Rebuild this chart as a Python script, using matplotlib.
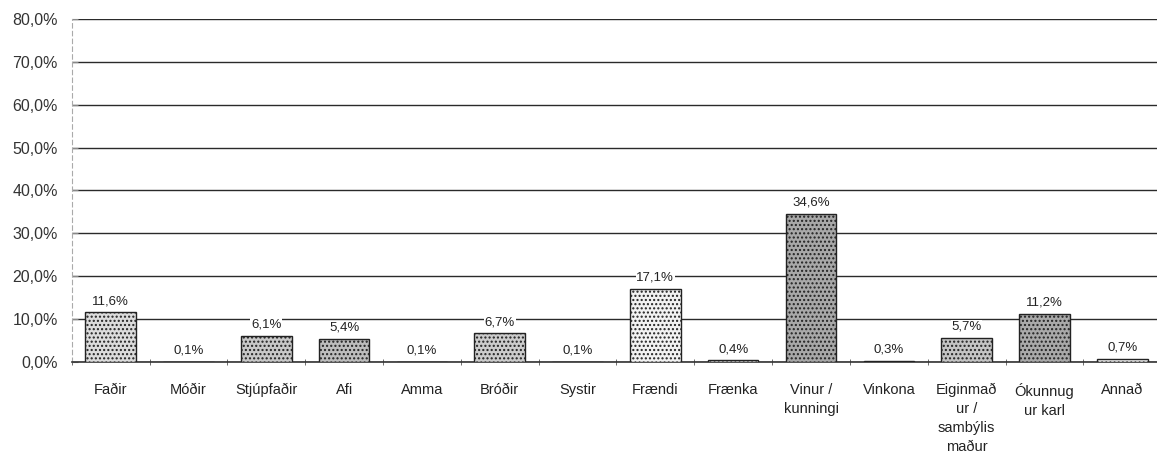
# Súlurit: tengsl geranda við þolanda
import matplotlib.pyplot as plt
import numpy as np

flokkar = ['Faðir', 'Móðir', 'Stjúpfaðir', 'Afi', 'Amma', 'Bróðir', 'Systir',
           'Frændi', 'Frænka', 'Vinur /\nkunningi', 'Vinkona',
           'Eiginmað\nur /\nsambýlis\nmaður', 'Ókunnug\nur karl', 'Annað']
hlutfall = [11.6, 0.1, 6.1, 5.4, 0.1, 6.7, 0.1, 17.1, 0.4, 34.6, 0.3, 5.7, 11.2, 0.7]
litir = ['#dcdcdc', '#eeeeee', '#c8c8c8', '#bdbdbd', '#eeeeee', '#cccccc', '#eeeeee',
         '#f2f2f2', '#eeeeee', '#a8a8a8', '#eeeeee', '#c4c4c4', '#a9a9a9', '#eeeeee']

plt.rcParams['font.family'] = ['Liberation Sans', 'DejaVu Sans']

fig = plt.figure(figsize=(11.57, 4.59), dpi=100)
ax = fig.add_axes([0.062, 0.211, 0.945, 0.748])

x = np.arange(len(flokkar))
bars = ax.bar(x, np.array(hlutfall) / 100, width=0.65, color=litir,
              edgecolor='#222222', linewidth=1.0, hatch='....', zorder=3)

# gildismerki fyrir ofan súlurnar
for xi, v in zip(x, hlutfall):
    ax.text(xi, v / 100 + 0.012, f'{v:.1f}%'.replace('.', ','), ha='center',
            va='bottom', fontsize=9.5, color='#222222', zorder=4,
            bbox=dict(facecolor='white', edgecolor='none', pad=0.5))

ax.set_ylim(0, 0.8)
ax.set_xlim(-0.5, 13.55)
ax.set_yticks(np.arange(0, 0.81, 0.1))
ax.set_yticklabels([f'{t:.1f}%'.replace('.', ',') for t in np.arange(0, 81, 10)],
                   fontsize=11.5, color='#333333')
ax.set_xticks(x)
ax.set_xticklabels(flokkar, fontsize=10.5, color='#222222', linespacing=1.45)
ax.tick_params(axis='x', length=0, pad=15)
ax.set_xticks(np.arange(-0.5, 13.6, 1), minor=True)
ax.tick_params(axis='x', which='minor', length=4, direction='inout', color='#555555')
ax.tick_params(axis='y', length=4, direction='in', color='#888888', pad=10)

ax.grid(axis='y', color='#2a2a2a', linewidth=1.0, zorder=0)
for s in ['top', 'right']:
    ax.spines[s].set_visible(False)
ax.spines['left'].set_color('#aaaaaa')
ax.spines['left'].set_linestyle((0, (4, 3)))
ax.spines['left'].set_linewidth(0.8)
ax.spines['bottom'].set_color('#333333')
ax.spines['bottom'].set_linewidth(1.2)

plt.savefig('out.png', dpi=100)
